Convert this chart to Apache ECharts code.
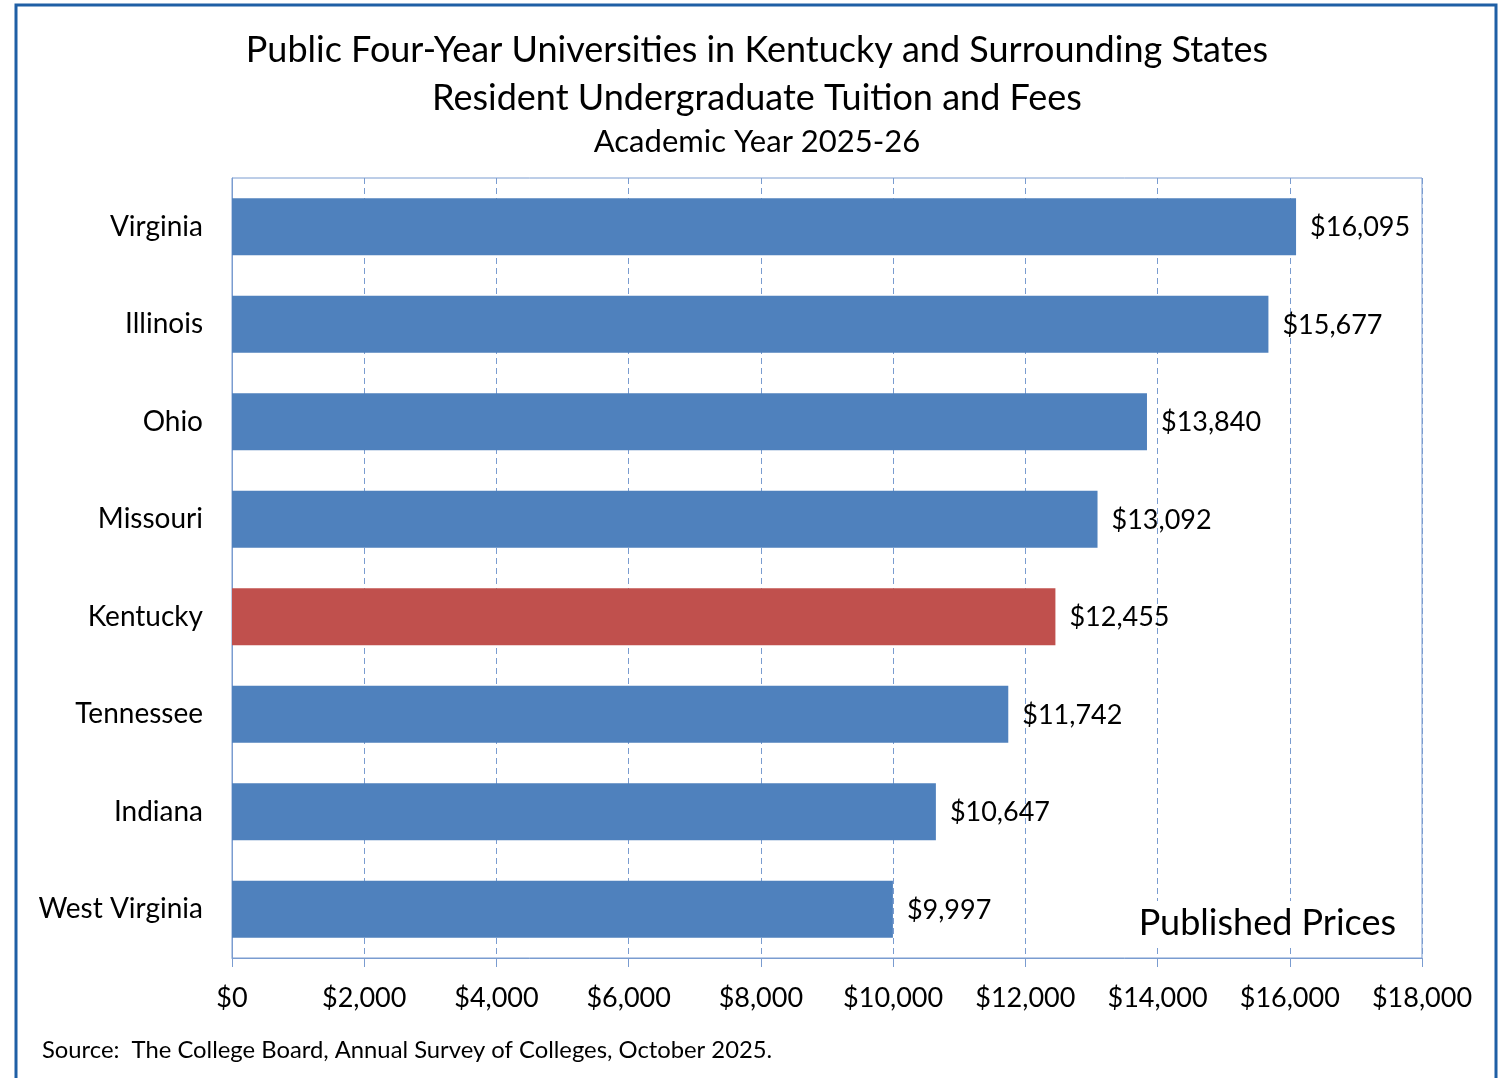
<!DOCTYPE html>
<html>
<head>
<meta charset="utf-8">
<script src="https://cdn.jsdelivr.net/npm/echarts@6/dist/echarts.min.js"></script>
<style>
  html, body { margin: 0; padding: 0; background: #fff; }
  #chart { width: 1504px; height: 1078px; }
</style>
</head>
<body>
<div id="chart"></div>
<script>
const states = ['Virginia', 'Illinois', 'Ohio', 'Missouri', 'Kentucky', 'Tennessee', 'Indiana', 'West Virginia'];
const tuition = [16095, 15677, 13840, 13092, 12455, 11742, 10647, 9997];
const highlight = 'Kentucky';
const xTicks = [0, 2000, 4000, 6000, 8000, 10000, 12000, 14000, 16000, 18000];
const titleLines = ['Public Four-Year Universities in Kentucky and Surrounding States', 'Resident Undergraduate Tuition and Fees'];
const subTitle = 'Academic Year 2025-26';
const sourceText = 'Source:  The College Board, Annual Survey of Colleges, October 2025.';
const noteText = 'Published Prices';

const FONT = 'Lato, "Open Sans", sans-serif';
const BLUE = '#4F81BD';
const RED = '#C0504D';
const AXIS = '#7A9CD0';

function money(v) {
  return '$' + Number(v).toLocaleString('en-US');
}

const chart = echarts.init(document.getElementById('chart'));
chart.setOption({
  animation: false,
  backgroundColor: '#fff',
  title: [
    { text: titleLines[0], left: 752, textAlign: 'center', top: 27, textStyle: { fontFamily: FONT, fontSize: 36, fontWeight: 'normal', color: '#000' } },
    { text: titleLines[1], left: 752, textAlign: 'center', top: 75, textStyle: { fontFamily: FONT, fontSize: 36, fontWeight: 'normal', color: '#000' } },
    { text: subTitle, left: 752, textAlign: 'center', top: 121, textStyle: { fontFamily: FONT, fontSize: 31, fontWeight: 'normal', color: '#000' } }
  ],
  grid: {
    left: 232, right: 82, top: 178, bottom: 120,
    show: true, borderColor: AXIS, borderWidth: 1, backgroundColor: 'transparent'
  },
  xAxis: {
    type: 'value',
    min: xTicks[0],
    max: xTicks[xTicks.length - 1],
    interval: xTicks[1] - xTicks[0],
    axisLine: { show: true, lineStyle: { color: AXIS, width: 1 } },
    axisTick: { show: true, length: 9, lineStyle: { color: AXIS } },
    splitLine: { show: true, lineStyle: { color: AXIS, type: [6, 4], width: 1 } },
    axisLabel: { formatter: money, fontFamily: FONT, fontSize: 27, color: '#000', margin: 27 }
  },
  yAxis: {
    type: 'category',
    data: states,
    inverse: true,
    axisLine: { show: true, lineStyle: { color: AXIS } },
    axisTick: { show: false },
    axisLabel: { fontFamily: FONT, fontSize: 28, color: '#000', margin: 29 }
  },
  series: [{
    type: 'bar',
    barWidth: 57,
    data: tuition.map((v, i) => ({ value: v, itemStyle: { color: states[i] === highlight ? RED : BLUE } })),
    label: {
      show: true, position: 'right', distance: 14, offset: [0, 1],
      formatter: p => money(p.value),
      fontFamily: FONT, fontSize: 27, color: '#000'
    }
  }],
  graphic: [
    { type: 'rect', shape: { x: 16, y: 5, width: 1480, height: 1100 }, style: { fill: 'none', stroke: '#1F5FA5', lineWidth: 3 }, silent: true },
    { type: 'text', right: 98, top: 901, z: 100,
      style: { text: noteText, fontFamily: FONT, fontSize: 36, fill: '#000', backgroundColor: '#fff', padding: [4, 10, 6, 10] } },
    { type: 'text', left: 42, top: 1038,
      style: { text: sourceText, fontFamily: FONT, fontSize: 23.8, fill: '#000' } }
  ]
});
</script>
</body>
</html>
